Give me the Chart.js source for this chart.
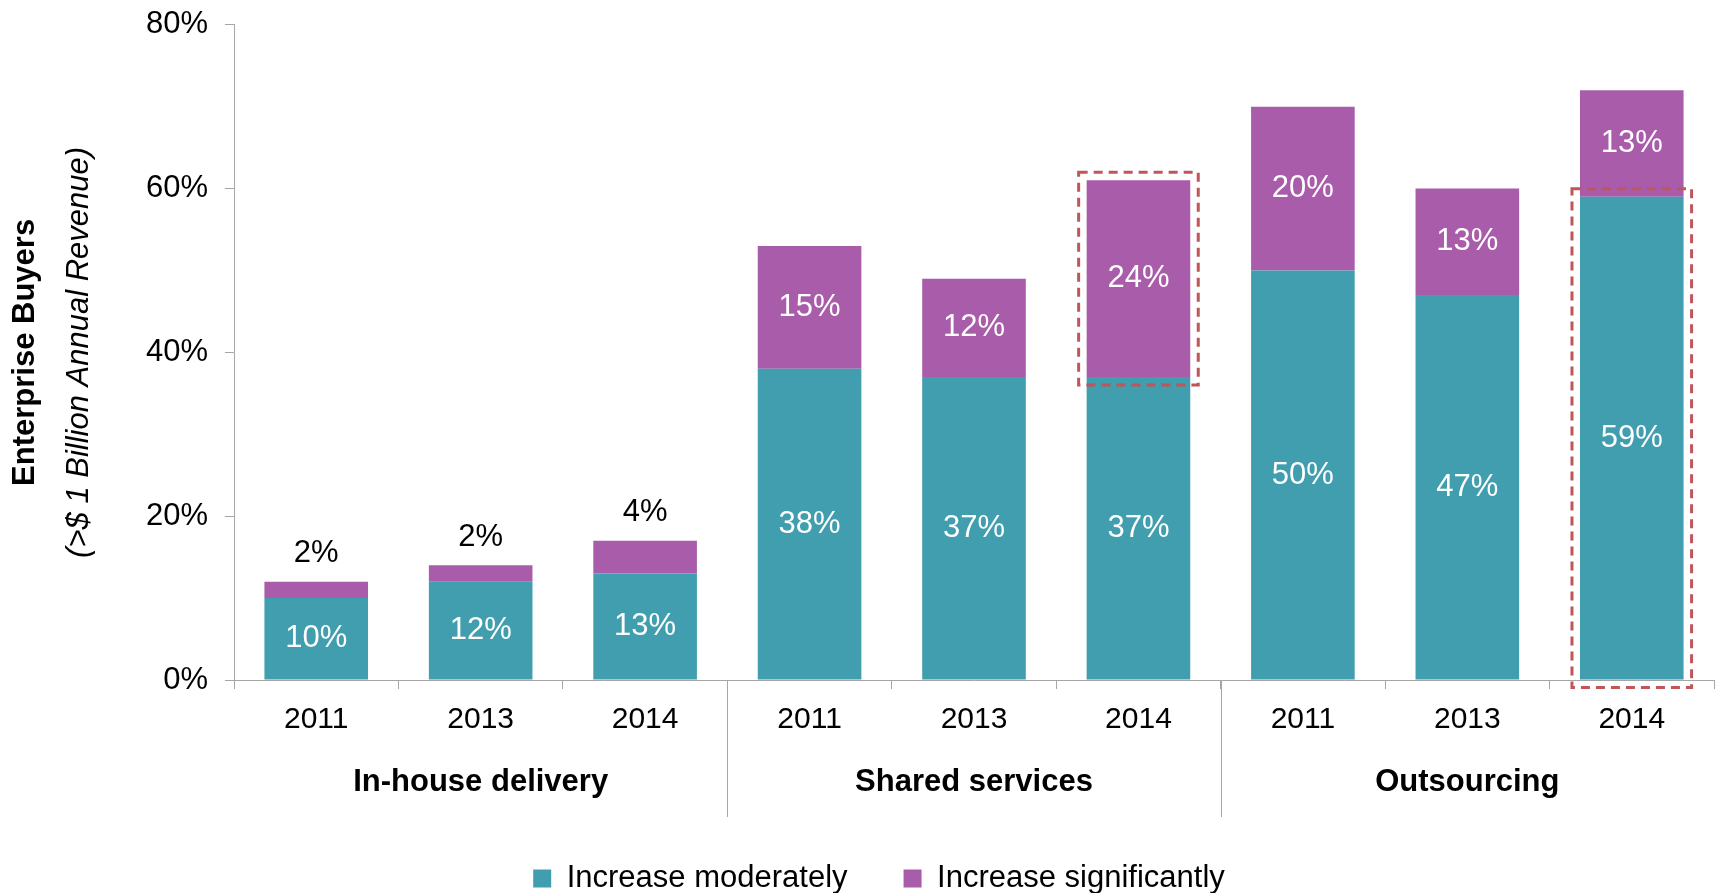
<!DOCTYPE html>
<html>
<head>
<meta charset="utf-8">
<script src="https://cdn.jsdelivr.net/npm/chart.js@4.4.1/dist/chart.umd.min.js"></script>
<style>
  html, body { margin: 0; padding: 0; background: #fff; }
</style>
</head>
<body>
<canvas id="chart" width="1717" height="893"></canvas>
<script>
// chart values
const groups = ["In-house delivery", "Shared services", "Outsourcing"];
const years = ["2011", "2013", "2014"];
const seriesNames = ["Increase moderately", "Increase significantly"];
const moderately = [10, 12, 13, 38, 37, 37, 50, 47, 59];
const significantly = [2, 2, 4, 15, 12, 24, 20, 13, 13];
const yTicks = [0, 20, 40, 60, 80];
// segments framed by a dashed box: [series, bar index]
const highlighted = [[1, 5], [0, 8]];

const labels = [];
groups.forEach(() => years.forEach((y) => labels.push(y)));

const TEAL = "#409EAE";
const PURPLE = "#A95CA9";
const AXIS = "#A6A6A6";
const FONT = "'Liberation Sans', Arial, sans-serif";

Chart.defaults.font.family = FONT;
Chart.defaults.color = "#000";

// Rotated two-line y axis title (bold + italic)
const yTitlePlugin = {
  id: "yTitle",
  afterDraw(chart) {
    const { ctx, chartArea } = chart;
    const cy = (chartArea.top + chartArea.bottom) / 2;
    ctx.save();
    ctx.fillStyle = "#000";
    ctx.textAlign = "center";
    ctx.textBaseline = "middle";
    ctx.translate(25, cy);
    ctx.rotate(-Math.PI / 2);
    ctx.font = "bold 31px " + FONT;
    ctx.fillText("Enterprise Buyers", 0, 0);
    ctx.font = "italic 31px " + FONT;
    ctx.fillText("(>$ 1 Billion Annual Revenue)", 0, 54);
    ctx.restore();
  },
};

// Group names under the years and separators between groups
const groupPlugin = {
  id: "groupLabels",
  afterDraw(chart) {
    const { ctx, chartArea } = chart;
    const x = chart.scales.x;
    const n = years.length;
    ctx.save();
    ctx.fillStyle = "#000";
    ctx.font = "bold 31px " + FONT;
    ctx.textAlign = "center";
    ctx.textBaseline = "middle";
    groups.forEach((g, gi) => {
      const cx = (x.getPixelForValue(gi * n) + x.getPixelForValue(gi * n + n - 1)) / 2;
      ctx.fillText(g, cx, chartArea.bottom + 102);
      if (gi > 0) {
        const sx = Math.round((x.getPixelForValue(gi * n - 1) + x.getPixelForValue(gi * n)) / 2) + 0.5;
        ctx.strokeStyle = AXIS;
        ctx.lineWidth = 1;
        ctx.beginPath();
        ctx.moveTo(sx, chartArea.bottom);
        ctx.lineTo(sx, chartArea.bottom + 137);
        ctx.stroke();
      }
    });
    ctx.restore();
  },
};

// Value labels: in the middle of a segment, or above the bar when it is too thin
const valuePlugin = {
  id: "valueLabels",
  afterDatasetsDraw(chart) {
    const { ctx } = chart;
    ctx.save();
    ctx.font = "31px " + FONT;
    ctx.textAlign = "center";
    ctx.textBaseline = "middle";
    chart.data.datasets.forEach((ds, di) => {
      const meta = chart.getDatasetMeta(di);
      meta.data.forEach((bar, i) => {
        const v = ds.data[i];
        if (v < 5) {
          ctx.fillStyle = "#000";
          ctx.fillText(v + "%", bar.x, bar.y - 28);
        } else {
          ctx.fillStyle = "#fff";
          ctx.fillText(v + "%", bar.x, (bar.y + bar.base) / 2);
        }
      });
    });
    ctx.restore();
  },
};

// Dashed frames round chosen segments
const highlightPlugin = {
  id: "highlightBoxes",
  afterDatasetsDraw(chart) {
    const { ctx } = chart;
    const pad = 8;
    ctx.save();
    ctx.strokeStyle = "#C0555A";
    ctx.lineWidth = 3;
    ctx.setLineDash([9, 6]);
    highlighted.forEach(([di, i]) => {
      const bar = chart.getDatasetMeta(di).data[i];
      const half = bar.width / 2;
      const top = Math.min(bar.y, bar.base);
      const bottom = Math.max(bar.y, bar.base);
      ctx.strokeRect(bar.x - half - pad, top - pad, bar.width + pad * 2, bottom - top + pad * 2);
    });
    ctx.restore();
  },
};

// nudge the legend a little to the right, as in the original
const legendShift = {
  id: "legendShift",
  afterLayout(chart) {
    chart.legend.left += 22;
    chart.legend.right += 22;
  },
};

new Chart(document.getElementById("chart"), {
  type: "bar",
  data: {
    labels: labels,
    datasets: [
      { label: seriesNames[0], data: moderately, backgroundColor: TEAL },
      { label: seriesNames[1], data: significantly, backgroundColor: PURPLE },
    ],
  },
  options: {
    responsive: false,
    animation: false,
    datasets: { bar: { categoryPercentage: 1, barPercentage: 0.63 } },
    layout: { padding: { top: 22, right: 3, left: 0, bottom: -11 } },
    plugins: {
      tooltip: { enabled: false },
      legend: {
        position: "bottom",
        labels: {
          font: { size: 31 },
          color: "#000",
          boxWidth: 18,
          boxHeight: 18,
          padding: 56,
        },
      },
    },
    scales: {
      x: {
        stacked: true,
        afterFit: (scale) => { scale.height = 127; },
        border: { color: AXIS },
        grid: { offset: true, drawOnChartArea: false, tickLength: 9, color: AXIS },
        ticks: { font: { size: 30 }, color: "#000", padding: 13 },
      },
      y: {
        stacked: true,
        min: yTicks[0],
        max: yTicks[yTicks.length - 1],
        afterFit: (scale) => { scale.width = 234; },
        afterBuildTicks: (scale) => { scale.ticks = yTicks.map((v) => ({ value: v })); },
        border: { color: AXIS },
        grid: { drawOnChartArea: false, tickLength: 9, color: AXIS },
        ticks: { font: { size: 31, lineHeight: 0.5 }, color: "#000", padding: 17, callback: (v) => v + "%" },
      },
    },
  },
  plugins: [yTitlePlugin, groupPlugin, valuePlugin, highlightPlugin, legendShift],
});
</script>
</body>
</html>
